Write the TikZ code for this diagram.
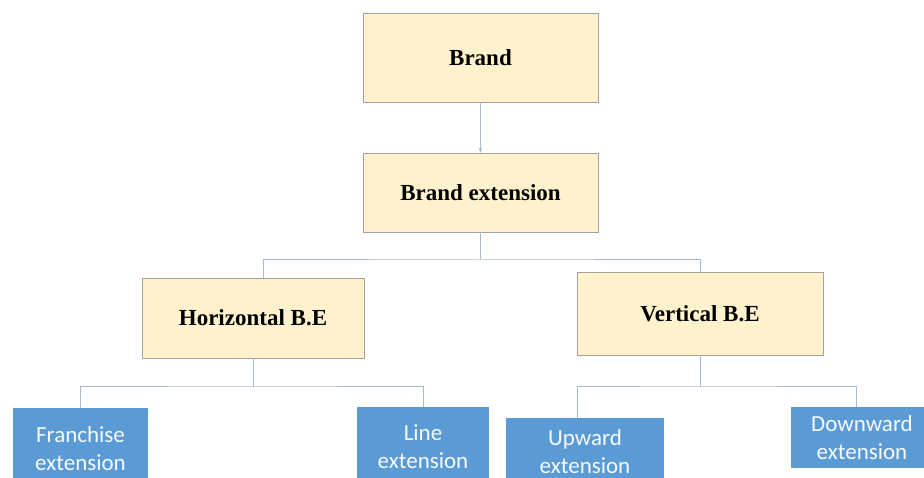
\documentclass[tikz,border=0pt]{standalone}
\usepackage{fontspec}
\setmainfont{Liberation Serif}
\newfontfamily\calibri{Carlito}
\usetikzlibrary{arrows.meta}

\definecolor{beige}{HTML}{FFF2CC}
\definecolor{beigeline}{HTML}{A6A29A}
\definecolor{bluebox}{HTML}{5B9BD5}
\definecolor{linkline}{HTML}{A9B8CA}

\tikzset{
	mainbox/.style={draw=beigeline, fill=beige, inner sep=0pt,
		font=\fontsize{23}{28}\selectfont\bfseries},
	subbox/.style={fill=bluebox, inner sep=0pt, anchor=north, align=center,
		text=white!95!bluebox, font=\calibri\fontsize{23}{28}\selectfont},
	link/.style={draw=linkline, line width=1pt}
}

\begin{document}
\begin{tikzpicture}[x=1pt, y=-1pt]
		\useasboundingbox[fill=white] (0,0) rectangle (924,478);
		% yellow boxes
		\node[mainbox, minimum width=235pt, minimum height=89pt] (brand) at (480.5,57.5) {Brand};
		\node[mainbox, minimum width=235pt, minimum height=79pt] (ext) at (480.5,192.5) {Brand extension};
		\node[mainbox, minimum width=222pt, minimum height=80pt] (hor) at (253,318) {Horizontal B.E};
		\node[mainbox, minimum width=246pt, minimum height=83pt] (ver) at (700,313.5) {Vertical B.E};
		% blue boxes
		\node[subbox, minimum width=135pt, minimum height=80pt] (fra) at (80.5,408) {Franchise\\extension};
		\node[subbox, minimum width=132pt, minimum height=78pt] (lin) at (423,407) {Line\\extension};
		\node[subbox, minimum width=158pt, minimum height=66pt] (upw) at (585,418) {Upward\\extension};
		\node[subbox, minimum width=142pt, minimum height=61pt] (dow) at (862,407) {Downward\\extension};
		% connectors
		\draw[link, -{Stealth[length=5pt,width=4pt]}] (brand) -- (ext);
		\coordinate (J1) at (480.5,260);
		\draw[link] (ext.south) -- (J1);
		\draw[link] ([xshift=10pt]hor.north) |- (J1) -| (ver.north);
		\coordinate (J2) at (253,386);
		\draw[link] (hor.south) -- (J2);
		\draw[link] (fra.north) |- (J2) -| (lin.north);
		\coordinate (J3) at (700,386);
		\draw[link] (ver.south) -- (J3);
		\draw[link] ([xshift=-8pt]upw.north) |- (J3) -| ([xshift=-6pt]dow.north);
	\end{tikzpicture}
\end{document}
